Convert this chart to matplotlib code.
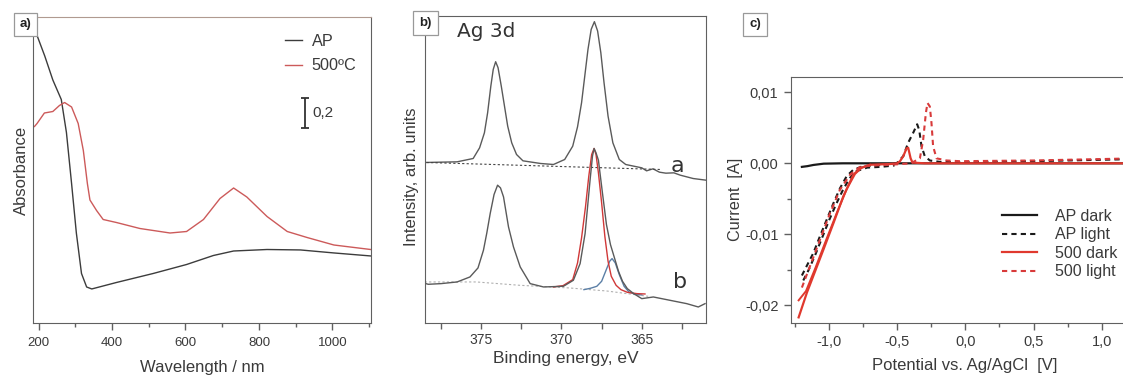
import numpy as np
import matplotlib
matplotlib.use("Agg")
import matplotlib.pyplot as plt
from matplotlib.ticker import MultipleLocator, FixedLocator, FixedFormatter

plt.rcParams['font.family'] = ['Liberation Sans', 'DejaVu Sans']

# ---- a) UV-Vis absorbance
ap_wl = [190, 194, 217, 239, 262, 276, 290, 303, 317, 331, 345, 412, 512, 603, 676, 731, 822, 913, 1004, 1104]
ap_abs = [1.97, 1.93, 1.78, 1.62, 1.49, 1.27, 0.93, 0.60, 0.33, 0.24, 0.227, 0.27, 0.33, 0.39, 0.45, 0.48,
          0.49, 0.487, 0.467, 0.447]
t500_wl = [189, 196, 216, 239, 257, 271, 290, 308, 322, 333, 340, 358, 376, 412, 476, 558, 603, 649, 694,
           731, 767, 822, 877, 931, 1004, 1104]
t500_abs = [1.31, 1.33, 1.40, 1.41, 1.45, 1.47, 1.44, 1.33, 1.15, 0.93, 0.82, 0.75, 0.69, 0.67, 0.63, 0.60,
            0.61, 0.69, 0.83, 0.90, 0.84, 0.71, 0.61, 0.57, 0.52, 0.49]
wl_ticks = [200, 400, 600, 800, 1000]
scale_bar = 0.2

# ---- b) XPS Ag 3d
be_a = [378.5, 376.5, 375.5, 375.1, 374.8, 374.6, 374.4, 374.25, 374.1, 373.95, 373.75, 373.55, 373.35,
        373.1, 372.8, 372.4, 371.3, 370.5, 369.8, 369.3, 369.0, 368.75, 368.55, 368.35, 368.15, 367.95,
        367.75, 367.55, 367.35, 367.1, 366.8, 366.4, 366.0, 365.5, 365.0, 364.7, 364.3, 363.9, 363.5,
        363.0, 362.6, 361.8, 361.0]
int_a = [48.1, 48.3, 49.3, 52.5, 57, 63, 71, 76, 78.3, 76.5, 71, 65, 59, 54, 50.5, 48.6, 47.8, 47.5, 49.0,
         53, 58.8, 66, 74, 82, 88, 90.3, 87.5, 81, 72, 62, 54, 49, 47.5, 47.0, 46.5, 45.6, 46.2, 45.2,
         44.9, 45.0, 44.3, 43.3, 42.8]
be_a_bg = [378.4, 363.8]
int_a_bg = [48.1, 46.0]

be_b = [378.8, 378.3, 377.5, 376.5, 375.7, 375.2, 374.86, 374.65, 374.44, 374.2, 373.98, 373.8, 373.61,
        373.3, 372.99, 372.57, 371.95, 371.12, 369.88, 369.26, 368.84, 368.53, 368.22, 368.07, 367.97,
        367.85, 367.7, 367.45, 367.2, 366.95, 366.7, 366.45, 366.2, 365.9, 365.5, 365.0, 364.28, 363.24,
        362.2, 361.48, 361.06]
int_b = [12.3, 11.6, 11.8, 12.3, 13.8, 16.5, 21.8, 27, 32.8, 38.5, 41.3, 40.5, 37.8, 28.8, 22.8, 16.8,
         11.8, 10.8, 11.0, 12.8, 17.8, 26.8, 42.8, 50, 52.3, 51, 48.8, 39, 29.5, 23.5, 19.5, 15.5, 12.5,
         10.3, 8.8, 7.3, 7.8, 6.8, 5.8, 4.8, 5.8]
be_red = [370.5, 369.9, 369.3, 369.0, 368.75, 368.5, 368.3, 368.12, 367.97, 367.85, 367.7, 367.5, 367.3,
          367.1, 366.9, 366.6, 366.3, 365.9, 365.3, 364.8]
int_red = [10.8, 11.2, 13, 18, 25.5, 35, 44, 50.5, 52.3, 50.5, 45, 36, 26, 18.5, 14, 11.3, 10, 9.2, 8.8, 8.7]
be_blue = [368.6, 368.2, 367.8, 367.5, 367.25, 367.0, 366.85, 366.65, 366.4, 366.1, 365.8, 365.4, 365.0]
int_blue = [10.0, 10.4, 11.0, 12.5, 15.5, 18.5, 19.3, 18.0, 14.5, 11.0, 9.3, 8.6, 8.4]
be_b_bg = [378.8, 377.5, 375.3, 372.6, 369.5, 367.2, 365.1, 364.6]
int_b_bg = [12.3, 12.3, 12.3, 11.3, 10.5, 9.6, 8.3, 8.0]
be_ticks = [375, 370, 365]

# ---- c) photo-electrochemistry
ap_dark_v = [-1.2, -1.16, -1.115, -1.04, -0.9, -0.6, 0.0, 0.6, 1.25]
ap_dark_i = [-0.0005, -0.0004, -0.00023, -0.00005, 0, 0, 0, 0, 0]
ap_light_v = [-1.2, -1.163, -1.115, -1.066, -1.017, -0.968, -0.92, -0.871, -0.822, -0.749, -0.627, -0.505,
              -0.456, -0.42, -0.383, -0.354, -0.339, -0.322, -0.298, -0.261, -0.188, -0.041, 0.5, 1.25]
ap_light_i = [-0.0158, -0.0144, -0.0126, -0.0102, -0.0079, -0.0056, -0.0035, -0.0018, -0.0009, -0.0004,
              -0.0002, 0, 0.001, 0.0029, 0.0043, 0.0055, 0.0047, 0.0024, 0.001, 0.0004, 0.0002, 0.00014,
              0.0003, 0.0006]
ap_light2_v = [-1.19, -1.15, -1.10, -1.05, -1.0, -0.95, -0.90, -0.85, -0.80, -0.72, -0.62, -0.52]
ap_light2_i = [-0.0165, -0.0150, -0.0128, -0.0104, -0.0080, -0.0058, -0.0038, -0.0021, -0.0011, -0.0006,
               -0.0005, -0.0003]
d500_v = [-1.224, -1.163, -1.115, -1.041, -0.968, -0.895, -0.822, -0.773, -0.7, -0.554, -0.5, -0.48,
          -0.456, -0.432, -0.42, -0.402, -0.388, -0.3, 0.5, 1.25]
d500_i = [-0.0217, -0.0182, -0.0158, -0.0121, -0.0084, -0.0046, -0.0016, -0.0007, -0.0002, -0.0001, 0,
          0.0003, 0.001, 0.0021, 0.0022, 0.0007, 0.0001, 0, 0, 0]
d500b_v = [-1.224, -1.17, -1.10, -1.02, -0.94, -0.87, -0.81, -0.76, -0.70]
d500b_i = [-0.0193, -0.0180, -0.0147, -0.0107, -0.0068, -0.0036, -0.0015, -0.0006, -0.0002]
l500_v = [-1.2, -1.139, -1.066, -0.993, -0.92, -0.846, -0.773, -0.675, -0.55, -0.4, -0.334, -0.31, -0.29,
          -0.278, -0.261, -0.249, -0.237, -0.212, -0.139, -0.041, 0.5, 1.25]
l500_i = [-0.0175, -0.0144, -0.0107, -0.007, -0.0037, -0.0016, -0.0005, -0.0003, -0.0002, 0, 0.0007,
          0.0033, 0.0071, 0.0085, 0.008, 0.0057, 0.0024, 0.0007, 0.0004, 0.0003, 0.0004, 0.0007]
v_ticks = [-1.0, -0.5, 0.0, 0.5, 1.0]
v_labels = ['-1,0', '-0,5', '0,0', '0,5', '1,0']
i_ticks = [0.01, 0.0, -0.01, -0.02]
i_labels = ['0,01', '0,00', '-0,01', '-0,02']

W, H = 1123, 375
fig = plt.figure(figsize=(W / 100, H / 100), dpi=100)
txt = '#3a3a3a'
spine = '#606060'


def box_label(x, y, s):
    fig.text(x / W, 1 - y / H, s, ha='center', va='center', fontsize=9.5, fontweight='bold', color='#222',
             bbox=dict(boxstyle='square,pad=0.45', fc='white', ec='#999999', lw=0.9))


# ---------------- a)
ax = fig.add_axes([33 / W, 52 / H, 338 / W, 306 / H])
ax.plot(ap_wl, ap_abs, color='#3c3c3c', lw=1.0, label='AP')
ax.plot(t500_wl, t500_abs, color='#cc5a5a', lw=1.0, label='500ºC')
ax.set_xlim(185, 1105)
ax.set_ylim(0, 2.04)
ax.set_yticks([])
ax.xaxis.set_major_locator(FixedLocator(wl_ticks))
ax.xaxis.set_minor_locator(MultipleLocator(100))
ax.tick_params(axis='x', which='major', direction='out', length=5, width=1, colors=spine,
               labelsize=9.5, labelcolor=txt, pad=5)
ax.tick_params(axis='x', which='minor', direction='out', length=3, width=1, colors=spine)
for s in ['left', 'bottom', 'right']:
    ax.spines[s].set_color(spine)
ax.spines['top'].set_color('#b09a90')
ax.set_xlabel('Wavelength / nm', fontsize=12, color=txt)
ax.set_ylabel('Absorbance', fontsize=12, color=txt)
ax.xaxis.set_label_coords(0.5, -0.122)
ax.yaxis.set_label_coords(-0.0133, 0.5)
ax.legend(loc='upper left', bbox_to_anchor=(0.7456, 0.945), frameon=False, fontsize=11.7,
          handlelength=1.05, handletextpad=0.6, labelspacing=0.58, borderpad=0, borderaxespad=0,
          labelcolor=txt)
bar_y0 = 1.30
ax.errorbar([0.805], [bar_y0 + scale_bar / 2], yerr=[scale_bar / 2], color='#333', lw=1.3, capsize=3,
            capthick=1.3, transform=ax.get_yaxis_transform())
ax.text(0.828, bar_y0 + scale_bar / 2, '0,2', transform=ax.get_yaxis_transform(), fontsize=11,
        color=txt, va='center', ha='left')
box_label(25.5, 24.5, 'a)')

# ---------------- b)
bx = fig.add_axes([425 / W, 52 / H, 281 / W, 307 / H])
bx.plot(be_a, int_a, color='#5a5a5a', lw=1.0)
bx.plot(be_a_bg, int_a_bg, color='#444444', lw=0.8, ls=(0, (2, 2)))
bx.plot(be_b_bg, int_b_bg, color='#b0b0b0', lw=0.8, ls=(0, (2, 2)))
bx.plot(be_blue, int_blue, color='#5b7fa6', lw=1.0)
bx.plot(be_red, int_red, color='#d03838', lw=1.0)
bx.plot(be_b, int_b, color='#5a5a5a', lw=1.0)
bx.set_xlim(378.5, 361.0)
bx.set_ylim(0, 92)
bx.set_yticks([])
bx.xaxis.set_major_locator(FixedLocator(be_ticks))
bx.xaxis.set_minor_locator(MultipleLocator(2.5))
bx.tick_params(axis='x', which='major', direction='out', length=4, width=1, colors=spine,
               labelsize=10, labelcolor=txt, pad=3)
bx.tick_params(axis='x', which='minor', direction='out', length=4, width=1, colors=spine)
for s in bx.spines.values():
    s.set_color(spine)
bx.set_xlabel('Binding energy, eV', fontsize=12.5, color=txt)
bx.set_ylabel('Intensity, arb. units', fontsize=12, color=txt)
bx.xaxis.set_label_coords(0.5, -0.09)
bx.yaxis.set_label_coords(-0.023, 0.477)
bx.text(0.113, 0.9495, 'Ag 3d', transform=bx.transAxes, fontsize=14.5, color='#333',
        family='DejaVu Sans', ha='left', va='center')
bx.text(0.900, 0.511, 'a', transform=bx.transAxes, fontsize=16, color='#333', family='DejaVu Sans',
        ha='center', va='center')
bx.text(0.907, 0.134, 'b', transform=bx.transAxes, fontsize=16, color='#333', family='DejaVu Sans',
        ha='center', va='center')
box_label(425.5, 23, 'b)')

# ---------------- c)
cx = fig.add_axes([791 / W, 52.3 / H, 344.7 / W, 246 / H])
dash = (0, (2.5, 2))
blk = '#1a1a1a'
red = '#e0392e'
cx.plot(ap_dark_v, ap_dark_i, color=blk, lw=1.6, label='AP dark')
cx.plot(ap_light_v, ap_light_i, color=blk, lw=1.5, ls=dash, label='AP light')
cx.plot(ap_light2_v, ap_light2_i, color=blk, lw=1.5, ls=dash)
cx.plot(d500_v, d500_i, color=red, lw=1.6, label='500 dark')
cx.plot(d500b_v, d500b_i, color=red, lw=1.4)
cx.plot(l500_v, l500_i, color='#d83a3a', lw=1.5, ls=dash, label='500 light')
cx.set_xlim(-1.28, 1.25)
cx.set_ylim(-0.02245, 0.0122)
cx.xaxis.set_major_locator(FixedLocator(v_ticks))
cx.xaxis.set_major_formatter(FixedFormatter(v_labels))
cx.xaxis.set_minor_locator(MultipleLocator(0.25))
cx.yaxis.set_major_locator(FixedLocator(i_ticks))
cx.yaxis.set_major_formatter(FixedFormatter(i_labels))
cx.yaxis.set_minor_locator(MultipleLocator(0.005))
cx.tick_params(which='major', direction='out', length=5, width=1, colors=spine, labelsize=10.5,
               labelcolor=txt, pad=4)
cx.tick_params(which='minor', direction='out', length=3, width=1, colors=spine)
for s in cx.spines.values():
    s.set_color(spine)
cx.set_xlabel('Potential vs. Ag/AgCl  [V]', fontsize=12, color=txt)
cx.set_ylabel('Current  [A]', fontsize=11.7, color=txt)
cx.xaxis.set_label_coords(0.505, -0.1443)
cx.yaxis.set_label_coords(-0.138, 0.5)
cx.legend(loc='upper left', bbox_to_anchor=(0.611, 0.463), frameon=False, fontsize=11.5,
          handlelength=2.2, handletextpad=1.15, labelspacing=0.22, borderpad=0, borderaxespad=0,
          labelcolor=txt)
box_label(755, 24.5, 'c)')

fig.savefig('out.png', dpi=100)
